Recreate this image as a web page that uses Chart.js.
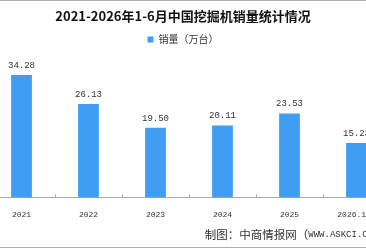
<!DOCTYPE html>
<html><head><meta charset="utf-8">
<script src="https://cdn.jsdelivr.net/npm/chart.js@4/dist/chart.umd.min.js"></script>
<style>
html,body{margin:0;padding:0;background:#fff;}
#wrap{position:relative;width:366px;height:248px;overflow:hidden;background:#fff;}
#wrap:before{content:"";position:absolute;left:0;top:0;width:366px;height:1px;background:#b0b0b0;z-index:2}
#wrap:after{content:"";position:absolute;left:0;top:247px;width:366px;height:1px;background:#b0b0b0;z-index:2}
#box{position:absolute;left:-24px;top:0;width:414px;height:248px;}
</style></head>
<body><div id="wrap"><div id="box"><canvas id="c"></canvas></div></div>
<script>
const categories = ['2021','2022','2023','2024','2025','2026.1-6'];
const salesValues = [34.28, 26.13, 19.50, 20.11, 23.53, 15.23];
const seriesName = '销量（万台）';
const titleText = '2021-2026年1-6月中国挖掘机销量统计情况';
const sourceCn = '制图：中商情报网（';
const sourceUrl = 'WWW.ASKCI.COM';
const sourceEnd = '）';

const valueLabels = {
  id: 'valueLabels',
  afterDatasetsDraw(chart) {
    const ctx = chart.ctx;
    const meta = chart.getDatasetMeta(0);
    ctx.save();
    ctx.font = '9px "Liberation Mono", "DejaVu Sans Mono", monospace';
    ctx.fillStyle = '#333';
    ctx.textAlign = 'center';
    ctx.textBaseline = 'bottom';
    meta.data.forEach((el, i) => {
      ctx.fillText(salesValues[i].toFixed(2), el.x, el.y - 5);
    });
    ctx.restore();
  }
};
const upTicks = {
  id: 'upTicks',
  afterDraw(chart) {
    const xs = chart.scales.x, ctx = chart.ctx;
    const n = categories.length;
    ctx.save();
    ctx.strokeStyle = '#aaa';
    ctx.lineWidth = 1;
    for (let i = 1; i < n; i++) {
      const x = Math.round((xs.getPixelForValue(i - 1) + xs.getPixelForValue(i)) / 2) + 0.5;
      ctx.beginPath();
      ctx.moveTo(x, chart.chartArea.bottom);
      ctx.lineTo(x, chart.chartArea.bottom - 3);
      ctx.stroke();
    }
    ctx.restore();
  }
};
const sourceNote = {
  id: 'sourceNote',
  afterDraw(chart) {
    const ctx = chart.ctx;
    const cjk = '11.5px "Noto Sans CJK SC", sans-serif';
    const mono = '9px "Liberation Mono", "DejaVu Sans Mono", monospace';
    const y = chart.height - 13.5;
    ctx.save();
    ctx.fillStyle = '#333';
    ctx.textBaseline = 'middle';
    ctx.textAlign = 'left';
    ctx.font = cjk; const w1 = ctx.measureText(sourceCn).width, w3 = ctx.measureText(sourceEnd).width;
    ctx.font = mono; const w2 = ctx.measureText(sourceUrl).width;
    let x = chart.chartArea.right - (w1 + w2 + w3);
    ctx.font = cjk; ctx.fillText(sourceCn, x, y); x += w1;
    ctx.font = mono; ctx.fillText(sourceUrl, x, y + 0.5); x += w2;
    ctx.font = cjk; ctx.fillText(sourceEnd, x, y);
    ctx.restore();
  }
};

new Chart(document.getElementById('c'), {
  type: 'bar',
  data: {
    labels: categories,
    datasets: [{
      label: seriesName,
      data: salesValues,
      backgroundColor: '#3f9df3',
      borderWidth: 0,
      barPercentage: 0.62,
      categoryPercentage: 0.5
    }]
  },
  options: {
    responsive: true,
    maintainAspectRatio: false,
    animation: false,
    events: [],
    layout: { padding: { top: 8, bottom: 23, left: 0, right: 0 } },
    plugins: {
      title: {
        display: true,
        text: titleText,
        color: '#111',
        font: { family: '"Noto Sans CJK SC", sans-serif', size: 13, weight: 'bold' },
        padding: { top: 0, bottom: 6 }
      },
      legend: {
        display: true,
        labels: {
          boxWidth: 6, boxHeight: 6,
          color: '#333',
          font: { family: '"Noto Sans CJK SC", sans-serif', size: 10 },
          padding: 5
        }
      },
      tooltip: { enabled: false }
    },
    scales: {
      x: {
        grid: { display: false },
        border: { display: true, color: '#aaa', width: 1 },
        ticks: {
          color: '#333',
          font: { family: '"Liberation Mono", "DejaVu Sans Mono", monospace', size: 8 },
          maxRotation: 0,
          padding: 5
        }
      },
      y: {
        min: 0, max: 40,
        display: true,
        grid: { display: false },
        border: { display: false },
        ticks: { display: false },
        afterFit(scale) { scale.width = 12; }
      }
    }
  },
  plugins: [valueLabels, upTicks, sourceNote]
});
</script>
</body></html>
